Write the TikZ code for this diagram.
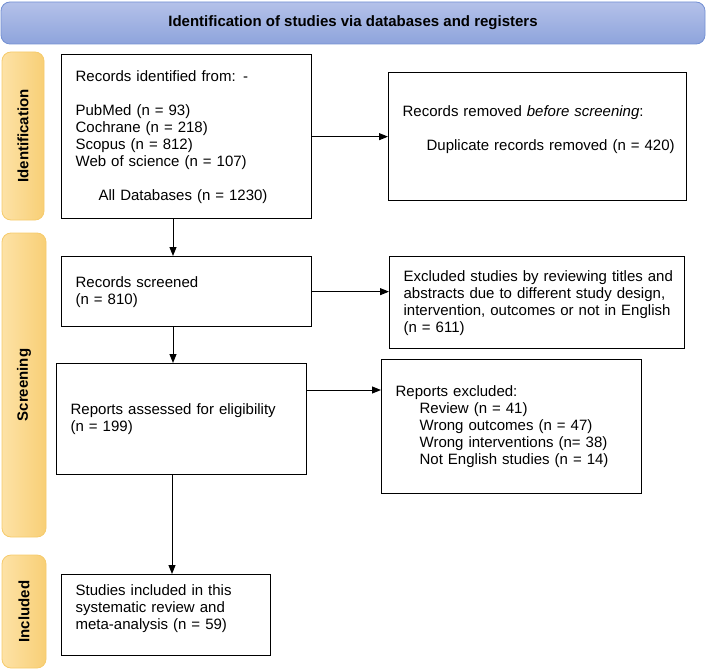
\documentclass[tikz,border=0pt]{standalone}
\usepackage{fontspec}
\setmainfont{Liberation Sans}
\usetikzlibrary{arrows.meta}

\definecolor{bannertop}{HTML}{B4C1E9}
\definecolor{bannerbot}{HTML}{8EA4DC}
\definecolor{bannerline}{HTML}{7390D3}
\definecolor{barlight}{HTML}{FDE2A6}
\definecolor{bardark}{HTML}{F8CF76}
\definecolor{barline}{HTML}{F6CB6C}

\begin{document}
\begin{tikzpicture}[x=1pt, y=-1pt,
    box/.style 2 args={draw, line width=1.3pt, anchor=north west, align=left,
        inner xsep=14pt, inner ysep=0pt, text width=#1-28pt, minimum height=#2,
        font=\fontsize{15}{17}\selectfont},
    phase/.style={draw=barline, line width=0.8pt, rounded corners=9pt,
        left color=barlight, right color=bardark, rotate=90,
        font=\fontsize{15}{17}\selectfont\bfseries},
    arr/.style={line width=1pt, -{Triangle[length=9pt, width=7pt]}}
]
    \useasboundingbox (0,0) rectangle (708,671);

    % banner
    \node[draw=bannerline, line width=0.8pt, rounded corners=9pt,
        top color=bannertop, bottom color=bannerbot,
        minimum width=704, minimum height=42,
        font=\fontsize{15}{17}\selectfont\bfseries] (title) at (353,23)
        {Identification of studies via databases and registers};

    % phases
    \node[phase, minimum width=168, minimum height=42] (idbar) at (23,136) {Identification};
    \node[phase, minimum width=304, minimum height=44] (scbar) at (24,385) {Screening};
    \node[phase, minimum width=113, minimum height=44] (inbar) at (24,611.5) {Included};

    % boxes
    \node[box={250pt}{164pt}] (ident) at (61,54)
        {Records identified from: -\\[17pt]
         PubMed (n = 93)\\
         Cochrane (n = 218)\\
         Scopus (n = 812)\\
         Web of science (n = 107)\\[17pt]
         \hspace*{23pt}All Databases (n = 1230)};
    \node[box={298pt}{128pt}] (removed) at (388,72)
        {Records removed \textit{before screening}:\\[17pt]
         \hspace*{24pt}\mbox{Duplicate records removed (n = 420)}\rule[-18pt]{0pt}{18pt}};
    \node[box={250pt}{70pt}] (screen) at (61,256)
        {Records screened\\
         (n = 810)};
    \node[box={295pt}{92pt}] (excl) at (389,256)
        {\mbox{Excluded studies by reviewing titles and}\\
         abstracts due to different study design,\\
         intervention, outcomes or not in English\\
         (n = 611)};
    \node[box={250pt}{111pt}] (assess) at (56,363)
        {Reports assessed for eligibility\\
         (n = 199)};
    \node[box={260pt}{134pt}] (repexcl) at (381,359)
        {Reports excluded:\\
         \hspace*{24pt}Review (n = 41)\\
         \hspace*{24pt}Wrong outcomes (n = 47)\\
         \hspace*{24pt}Wrong interventions (n= 38)\\
         \hspace*{24pt}Not English studies (n = 14)};
    \node[box={209pt}{81pt}] (incl) at (61,574)
        {Studies included in this\\
         systematic review and\\
         meta-analysis (n = 59)\rule[-16pt]{0pt}{16pt}};

    % arrows
    \coordinate (col) at (173,0);
    \coordinate (row) at (0,390);
    \draw[arr] (col |- ident.south) -- (col |- screen.north);
    \draw[arr] (ident.east) -- (removed.west |- ident.east);
    \draw[arr] (screen.east) -- (excl.west |- screen.east);
    \draw[arr] (col |- screen.south) -- (col |- assess.north);
    \draw[arr] (assess.east |- row) -- (repexcl.west |- row);
    \draw[arr] (assess.south -| 172,0) -- (incl.north -| 172,0);
\end{tikzpicture}
\end{document}
